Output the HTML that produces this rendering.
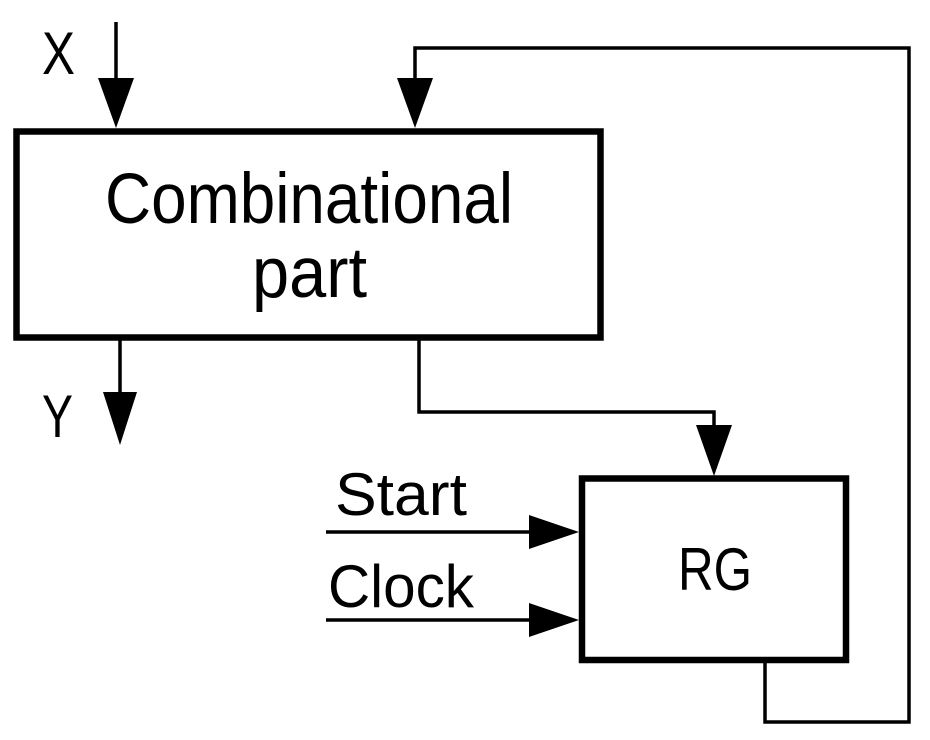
<!DOCTYPE html>
<html><head><meta charset="utf-8"><style>
html,body{margin:0;padding:0;background:#fff;}
svg{display:block;}
text{font-family:"Liberation Sans",sans-serif;font-size:60px;fill:#000;}
</style></head><body>
<svg width="930" height="740" viewBox="0 0 930 740" xmlns="http://www.w3.org/2000/svg">
<rect x="16.5" y="131.5" width="584" height="206" fill="none" stroke="#000" stroke-width="6.5"/>
<rect x="582" y="478.5" width="264" height="181.5" fill="none" stroke="#000" stroke-width="6.5"/>
<g stroke="#000" stroke-width="3.5" fill="none">
<line x1="116" y1="22" x2="116" y2="90"/>
<polyline points="765,663 765,722 909,722 909,48 415,48 415,90"/>
<line x1="120" y1="340" x2="120" y2="400"/>
<polyline points="419,340 419,412 714,412 714,430"/>
<line x1="326" y1="532" x2="540" y2="532"/>
<line x1="326" y1="620" x2="540" y2="620"/>
</g>
<g fill="#000">
<polygon points="98,78 134,78 116,128"/>
<polygon points="397,78 433,78 415,128"/>
<polygon points="103,392 137,392 120,445"/>
<polygon points="696,425 732,425 714,476"/>
<polygon points="529,515 529,549 579,532"/>
<polygon points="529,603 529,637 579,620"/>
</g>
<text x="42" y="74" textLength="33" lengthAdjust="spacingAndGlyphs">X</text>
<text x="42" y="437" textLength="31" lengthAdjust="spacingAndGlyphs">Y</text>
<text x="105" y="223" style="font-size:71px" textLength="408" lengthAdjust="spacingAndGlyphs">Combinational</text>
<text x="252" y="297" style="font-size:71px" textLength="115" lengthAdjust="spacingAndGlyphs">part</text>
<text x="335" y="515" textLength="132" lengthAdjust="spacingAndGlyphs">Start</text>
<text x="328" y="607" textLength="146" lengthAdjust="spacingAndGlyphs">Clock</text>
<text x="678" y="590" textLength="74" lengthAdjust="spacingAndGlyphs">RG</text>
</svg>
</body></html>
